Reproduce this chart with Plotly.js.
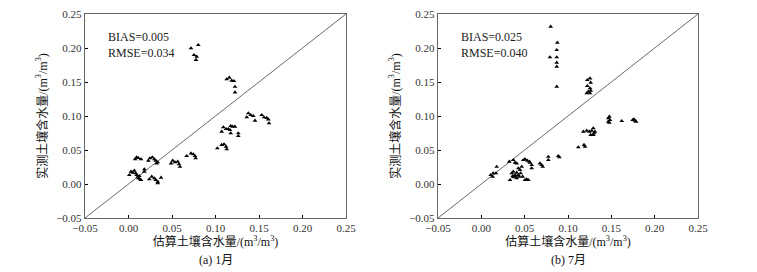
<!DOCTYPE html>
<html>
<head>
<meta charset="utf-8">
<script src="https://cdn.plot.ly/plotly-3.0.1.min.js"></script>
<style>
html,body{margin:0;padding:0;background:#fff;}
#chart{width:757px;height:272px;}
</style>
</head>
<body>
<div id="chart"></div>
<script>
// ---- Data: (a) January ----
var janEst = [0.0718,0.0802,0.0753,0.0784,0.0776,
  0.1129,0.1159,0.1186,0.1213,0.1224,0.1224,
  0.1359,0.1377,0.1405,0.1434,0.1454,0.1531,0.1557,0.1588,0.1607,0.1615,
  0.1071,0.1090,0.1121,0.1147,0.1167,0.1175,0.1197,0.1224,0.1175,0.1262,0.1262,
  0.1021,0.1071,0.1098,0.1121,0.1129,
  0.0669,0.0718,0.0745,0.0764,0.0772,
  0.0489,0.0508,0.0534,0.0566,0.0580,0.0592,
  0.0075,0.0094,0.0113,0.0144,
  0.0228,0.0247,0.0274,0.0297,0.0313,0.0324,0.0336,
  0.0009,0.0029,0.0048,0.0067,0.0083,0.0094,0.0106,0.0113,0.0124,0.0132,0.0144,0.0182,0.0182,
  0.0239,0.0267,0.0297,0.0313,0.0336,0.0336,0.0374];
var janObs = [0.1996,0.2044,0.1897,0.1872,0.1824,
  0.1540,0.1563,0.1519,0.1515,0.1430,0.1348,
  0.0981,0.1040,0.1015,0.1000,0.0931,0.1015,0.0981,0.0971,0.0951,0.0893,
  0.0769,0.0834,0.0809,0.0809,0.0794,0.0853,0.0843,0.0843,0.0746,0.0746,0.0706,
  0.0525,0.0574,0.0584,0.0549,0.0510,
  0.0412,0.0451,0.0437,0.0412,0.0378,
  0.0304,0.0343,0.0319,0.0328,0.0290,0.0254,
  0.0363,0.0393,0.0382,0.0363,
  0.0343,0.0378,0.0393,0.0363,0.0343,0.0304,0.0319,
  0.0132,0.0181,0.0166,0.0196,0.0157,0.0132,0.0107,0.0084,0.0118,0.0069,0.0059,0.0181,0.0216,
  0.0069,0.0107,0.0084,0.0059,0.0034,0.0010,0.0093];

// ---- Data: (b) July ----
var julEst = [0.0800,0.0877,0.0870,0.0792,0.0870,0.0870,0.0870,0.0870,
  0.1223,0.1254,0.1262,0.1223,0.1254,0.1262,0.1234,0.1254,0.1216,
  0.1465,0.1477,0.1485,0.1465,0.1477,0.1620,0.1746,0.1761,0.1785,0.1773,
  0.1177,0.1216,0.1246,0.1273,0.1292,0.1300,0.1311,0.1262,0.1292,
  0.1119,0.1185,0.1196,
  0.0108,0.0138,0.0131,0.0177,0.0169,
  0.0323,0.0369,0.0388,0.0408,
  0.0484,0.0504,0.0530,0.0554,0.0562,0.0581,0.0581,
  0.0677,0.0696,0.0708,
  0.0773,0.0773,0.0888,0.0900,
  0.0350,0.0369,0.0388,0.0400,0.0408,0.0427,0.0438,0.0446,0.0454,0.0466,0.0477,0.0427,
  0.0331,0.0369,0.0504,0.0523,0.0542,0.0362,0.0408];
var julObs = [0.2313,0.2078,0.1970,0.1863,0.1863,0.1784,0.1725,0.1431,
  0.1529,0.1554,0.1490,0.1441,0.1407,0.1372,0.1357,0.1334,0.1334,
  0.0966,0.0990,0.0941,0.0916,0.0901,0.0926,0.0941,0.0951,0.0916,0.0931,
  0.0769,0.0784,0.0769,0.0784,0.0819,0.0746,0.0769,0.0721,0.0721,
  0.0540,0.0574,0.0549,
  0.0132,0.0157,0.0107,0.0254,0.0157,
  0.0328,0.0353,0.0314,0.0304,
  0.0353,0.0363,0.0343,0.0328,0.0314,0.0279,0.0231,
  0.0304,0.0279,0.0254,
  0.0401,0.0353,0.0412,0.0393,
  0.0157,0.0181,0.0132,0.0107,0.0166,0.0132,0.0107,0.0206,0.0157,0.0254,0.0107,0.0231,
  0.0059,0.0099,0.0059,0.0069,0.0059,0.0118,0.0084];

var oneToOne = [-0.05, 0.25];
var tickVals = [-0.05, 0.00, 0.05, 0.10, 0.15, 0.20, 0.25];
var tickText = ['\u22120.05','0.00','0.05','0.10','0.15','0.20','0.25'];
var statsA = ['BIAS=0.005', 'RMSE=0.034'];
var statsB = ['BIAS=0.025', 'RMSE=0.040'];
var xTitle = '估算土壤含水量/(m<sup>3</sup>/m<sup>3</sup>)';
var yTitle = '实测土壤含水量/(m<sup>3</sup>/m<sup>3</sup>)';
var panelLabels = ['(a) 1月', '(b) 7月'];

var FONT = 'Liberation Serif, "Times New Roman", "Noto Sans CJK SC", serif';
var tickFont = {family: FONT, size: 11, color: '#333'};

function marks(x, y, xa, ya) {
  return {x: x, y: y, xaxis: xa, yaxis: ya, type: 'scatter', mode: 'markers',
    marker: {symbol: 'triangle-up', size: 4.2, color: '#000'}, hoverinfo: 'skip', showlegend: false};
}
function diag(xa, ya) {
  return {x: oneToOne, y: oneToOne, xaxis: xa, yaxis: ya, type: 'scatter', mode: 'lines',
    line: {color: '#444', width: 0.8}, hoverinfo: 'skip', showlegend: false};
}

function xax(domain, anchor) {
  return {domain: domain, anchor: anchor, range: [-0.05, 0.25], tickvals: tickVals, ticktext: tickText,
    ticks: 'inside', ticklen: 3, tickcolor: '#000', showline: true, linecolor: '#666', linewidth: 1.2,
    mirror: true, showgrid: false, zeroline: false, tickfont: tickFont,
    title: {text: xTitle, font: {family: FONT, size: 12, color: '#111'}, standoff: 4}};
}
function yax(domain, anchor) {
  return {domain: domain, anchor: anchor, range: [-0.05, 0.25], tickvals: tickVals, ticktext: tickText,
    ticks: 'inside', ticklen: 3, tickcolor: '#000', showline: true, linecolor: '#666', linewidth: 1.2,
    mirror: true, showgrid: false, zeroline: false, tickfont: tickFont,
    title: {text: yTitle, font: {family: FONT, size: 12, color: '#111'}, standoff: 6}};
}

var yDom = [1 - 218/272, 1 - 14/272];
var data = [
  diag('x', 'y'), marks(janEst, janObs, 'x', 'y'),
  diag('x2', 'y2'), marks(julEst, julObs, 'x2', 'y2')
];

var layout = {
  width: 757, height: 272,
  margin: {l: 0, r: 0, t: 0, b: 0},
  paper_bgcolor: '#fff', plot_bgcolor: '#fff',
  xaxis: xax([85/757, 346/757], 'y'),
  yaxis: yax(yDom, 'x'),
  xaxis2: xax([438/757, 698/757], 'y2'),
  yaxis2: yax(yDom, 'x2'),
  annotations: [
    {xref: 'x domain', yref: 'y domain', x: 0.08, y: 0.93, xanchor: 'left', yanchor: 'top', showarrow: false,
     align: 'left', text: statsA.join('<br>'), font: {family: FONT, size: 12, color: '#222'}},
    {xref: 'x2 domain', yref: 'y2 domain', x: 0.08, y: 0.93, xanchor: 'left', yanchor: 'top', showarrow: false,
     align: 'left', text: statsB.join('<br>'), font: {family: FONT, size: 12, color: '#222'}},
    {xref: 'x domain', yref: 'paper', x: 0.5, y: 12/272, xanchor: 'center', yanchor: 'middle', showarrow: false,
     text: panelLabels[0], font: {family: FONT, size: 12, color: '#111'}},
    {xref: 'x2 domain', yref: 'paper', x: 0.5, y: 12/272, xanchor: 'center', yanchor: 'middle', showarrow: false,
     text: panelLabels[1], font: {family: FONT, size: 12, color: '#111'}}
  ]
};

Plotly.newPlot('chart', data, layout, {displayModeBar: false, staticPlot: true});
</script>
</body>
</html>
